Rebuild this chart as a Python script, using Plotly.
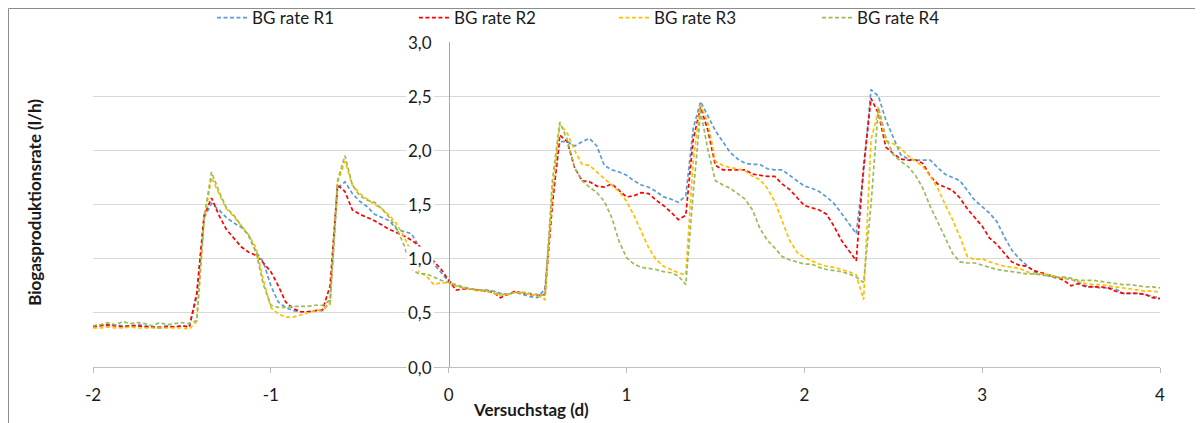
import plotly.graph_objects as go

# time axis: hourly samples, expressed in hours relative to day 0
hours = list(range(-48, 97))

bg_r1 = [
    0.38,0.39,0.38,0.39,0.38,0.38,0.39,0.38,0.37,0.37,0.38,0.37,0.38,0.37,
    0.65,1.38,1.51,1.45,1.38,1.33,1.29,1.22,1.06,0.97,0.75,0.60,0.55,0.52,0.51,0.51,0.52,0.52,0.60,
    1.65,1.71,1.60,1.53,1.48,1.41,1.38,1.35,1.27,1.25,1.23,1.11,1.03,0.94,0.86,
    0.79,0.75,0.73,0.72,0.71,0.71,0.70,0.68,0.67,0.69,0.67,0.65,0.64,
    0.72,1.55,2.08,2.08,2.04,2.08,2.11,2.04,1.86,1.82,1.80,1.77,1.72,1.68,1.66,1.62,1.57,1.55,1.52,1.58,2.20,2.45,
    2.32,2.18,2.08,1.98,1.92,1.88,1.87,1.87,1.83,1.82,1.82,1.77,1.72,1.67,1.65,1.62,1.57,1.51,1.42,1.33,1.23,
    1.80,2.56,2.50,2.28,2.12,1.96,1.92,1.91,1.91,1.91,1.84,1.78,1.75,1.72,1.63,1.54,1.48,1.42,1.34,1.20,1.08,
    1.00,0.94,0.88,0.86,0.84,0.82,0.82,0.81,0.78,0.75,0.74,0.73,0.73,0.72,0.68,0.68,0.68,0.67,0.65,0.64,
]
bg_r2 = [
    0.37,0.38,0.39,0.38,0.37,0.38,0.38,0.37,0.37,0.36,0.37,0.37,0.38,0.37,
    0.68,1.40,1.56,1.40,1.27,1.19,1.11,1.06,1.03,0.96,0.88,0.75,0.60,0.54,0.51,0.51,0.52,0.53,0.75,
    1.68,1.62,1.45,1.41,1.38,1.35,1.31,1.27,1.24,1.21,1.17,1.12,1.05,0.97,0.90,
    0.80,0.71,0.72,0.72,0.71,0.70,0.69,0.64,0.67,0.70,0.68,0.67,0.66,
    0.67,1.50,2.14,2.08,1.84,1.72,1.71,1.67,1.66,1.69,1.63,1.57,1.58,1.61,1.60,1.54,1.49,1.43,1.36,1.40,2.10,2.40,
    2.18,1.86,1.82,1.82,1.82,1.82,1.78,1.77,1.76,1.76,1.69,1.64,1.57,1.49,1.47,1.45,1.41,1.30,1.17,1.07,0.98,
    1.85,2.48,2.34,2.03,1.97,1.92,1.91,1.91,1.88,1.76,1.69,1.66,1.63,1.56,1.46,1.38,1.30,1.19,1.13,1.05,0.97,
    0.94,0.93,0.89,0.87,0.85,0.83,0.80,0.75,0.77,0.74,0.74,0.74,0.73,0.70,0.68,0.68,0.68,0.67,0.64,0.63,
]
bg_r3 = [
    0.36,0.36,0.37,0.36,0.36,0.37,0.36,0.36,0.36,0.36,0.36,0.36,0.36,0.35,
    0.42,1.35,1.75,1.60,1.46,1.39,1.30,1.22,1.10,0.80,0.55,0.49,0.46,0.46,0.48,0.50,0.52,0.53,0.58,
    1.70,1.90,1.68,1.60,1.55,1.50,1.46,1.40,1.32,1.20,1.05,0.88,0.84,0.76,0.78,
    0.77,0.75,0.73,0.72,0.70,0.70,0.68,0.66,0.67,0.69,0.68,0.67,0.66,
    0.62,1.60,2.24,2.16,2.00,1.87,1.86,1.80,1.74,1.68,1.62,1.53,1.40,1.25,1.10,0.99,0.93,0.90,0.87,0.85,1.90,2.42,
    2.25,1.90,1.86,1.84,1.83,1.81,1.76,1.73,1.65,1.53,1.34,1.17,1.06,1.01,0.98,0.95,0.93,0.92,0.90,0.88,0.85,
    0.62,2.10,2.36,2.09,2.06,2.02,1.95,1.90,1.85,1.76,1.65,1.50,1.36,1.20,1.02,0.99,1.00,0.97,0.95,0.93,0.92,
    0.91,0.88,0.86,0.86,0.85,0.83,0.82,0.81,0.79,0.77,0.76,0.76,0.75,0.74,0.73,0.72,0.71,0.70,0.70,0.69,
]
bg_r4 = [
    0.38,0.39,0.41,0.39,0.42,0.40,0.41,0.40,0.38,0.41,0.39,0.40,0.41,0.40,
    0.43,1.38,1.80,1.62,1.47,1.40,1.30,1.21,1.06,0.76,0.57,0.55,0.55,0.56,0.56,0.56,0.57,0.57,0.62,
    1.72,1.95,1.68,1.58,1.54,1.52,1.46,1.38,1.28,1.12,0.90,0.86,0.86,0.83,0.80,
    0.78,0.76,0.74,0.72,0.71,0.71,0.70,0.67,0.67,0.69,0.69,0.68,0.67,
    0.66,1.72,2.26,2.10,1.84,1.72,1.66,1.61,1.53,1.38,1.16,1.01,0.95,0.92,0.91,0.90,0.88,0.87,0.84,0.76,1.60,2.36,
    2.00,1.72,1.68,1.65,1.60,1.55,1.45,1.28,1.17,1.10,1.02,0.99,0.97,0.95,0.95,0.92,0.90,0.89,0.88,0.86,0.83,
    0.78,1.50,2.40,2.12,1.96,1.90,1.85,1.77,1.65,1.48,1.34,1.19,1.05,0.97,0.96,0.96,0.94,0.92,0.90,0.89,0.88,
    0.87,0.86,0.86,0.85,0.84,0.83,0.83,0.82,0.80,0.80,0.80,0.79,0.78,0.77,0.76,0.76,0.75,0.74,0.74,0.73,
]

series_names = ["BG rate R1", "BG rate R2", "BG rate R3", "BG rate R4"]
series_values = [bg_r1, bg_r2, bg_r3, bg_r4]
x_ticks = [-2, -1, 0, 1, 2, 3, 4]
y_ticks = [0.0, 0.5, 1.0, 1.5, 2.0, 2.5, 3.0]

for v in series_values:
    assert len(v) == len(hours), len(v)

days = [h / 24 for h in hours]

colors = ["#5B9BD5", "#FF0000", "#FFC000", "#9BBB59"]
legend_x = [0.1707, 0.3397, 0.5071, 0.677]   # container fractions
FONT = "Lato"
TXT = "#1a1a1a"

W, H = 1195, 415          # page body has an 8px margin
L, T, PW, PH = 85, 34, 1067, 325

fig = go.Figure()
legend_ids = ["legend", "legend2", "legend3", "legend4"]
for name, vals, col, lid in zip(series_names, series_values, colors, legend_ids):
    fig.add_trace(go.Scatter(
        x=days, y=vals, mode="lines", name=name,
        line=dict(color=col, width=1.7, dash="4px,2.5px"),
        legend=lid,
    ))

xmin, xmax = x_ticks[0], x_ticks[-1]
layout_legends = {}
for lid, lx in zip(legend_ids, legend_x):
    layout_legends[lid] = dict(
        x=lx, y=1 - 10 / H, xref="container", yref="container",
        xanchor="left", yanchor="middle",
        orientation="h", bgcolor="rgba(0,0,0,0)",
        font=dict(family=FONT, size=17, color=TXT),
        itemwidth=30,
    )

annotations = []
for v in y_ticks:
    annotations.append(dict(
        x=0, y=v, xref="x", yref="y", xanchor="right", yanchor="middle",
        xshift=-15, text=f"{v:.1f}".replace(".", ","), showarrow=False,
        bgcolor="white", borderpad=1,
        font=dict(family=FONT, size=17, color=TXT),
    ))
annotations.append(dict(
    x=-0.0544, y=0.508, xref="paper", yref="paper", textangle=-90,
    text="<b>Biogasproduktionsrate (l/h)</b>", showarrow=False,
    xanchor="center", yanchor="middle",
    font=dict(family=FONT, size=17, color=TXT),
))
annotations.append(dict(
    x=0.4105, y=-0.132, xref="paper", yref="paper",
    text="<b>Versuchstag (d)</b>", showarrow=False,
    xanchor="center", yanchor="middle",
    font=dict(family=FONT, size=17, color=TXT),
))

fig.update_layout(
    width=W, height=H,
    margin=dict(l=L, r=W - L - PW, t=T, b=H - T - PH, autoexpand=False),
    paper_bgcolor="white", plot_bgcolor="white",
    showlegend=True,
    font=dict(family=FONT, size=17, color=TXT),
    annotations=annotations,
    shapes=[dict(
        type="rect", xref="paper", yref="paper",
        x0=(0.5 - L) / PW, x1=(1189 - L) / PW,
        y0=-0.3, y1=(T + PH - 0.5) / PH,
        line=dict(color="#8C8C8C", width=1), fillcolor="rgba(0,0,0,0)",
        layer="below",
    )],
    **layout_legends,
)
fig.update_xaxes(
    range=[xmin, xmax], showgrid=False, zeroline=False,
    showline=True, linecolor="#BFBFBF", linewidth=1,
    ticks="outside", ticklen=5, tickcolor="#BFBFBF",
    tickvals=x_ticks, ticktext=[str(t) for t in x_ticks],
    ticklabelstandoff=8,
    tickfont=dict(family=FONT, size=17, color=TXT),
)
fig.update_yaxes(
    range=[y_ticks[0], y_ticks[-1]], tickvals=y_ticks, showticklabels=False,
    showgrid=True, gridcolor="#D9D9D9", gridwidth=1, zeroline=False,
    anchor="free", position=(0 - xmin) / (xmax - xmin),
    showline=True, linecolor="#A6A6A6", linewidth=1, ticks="",
)

fig.write_html("out.html")
